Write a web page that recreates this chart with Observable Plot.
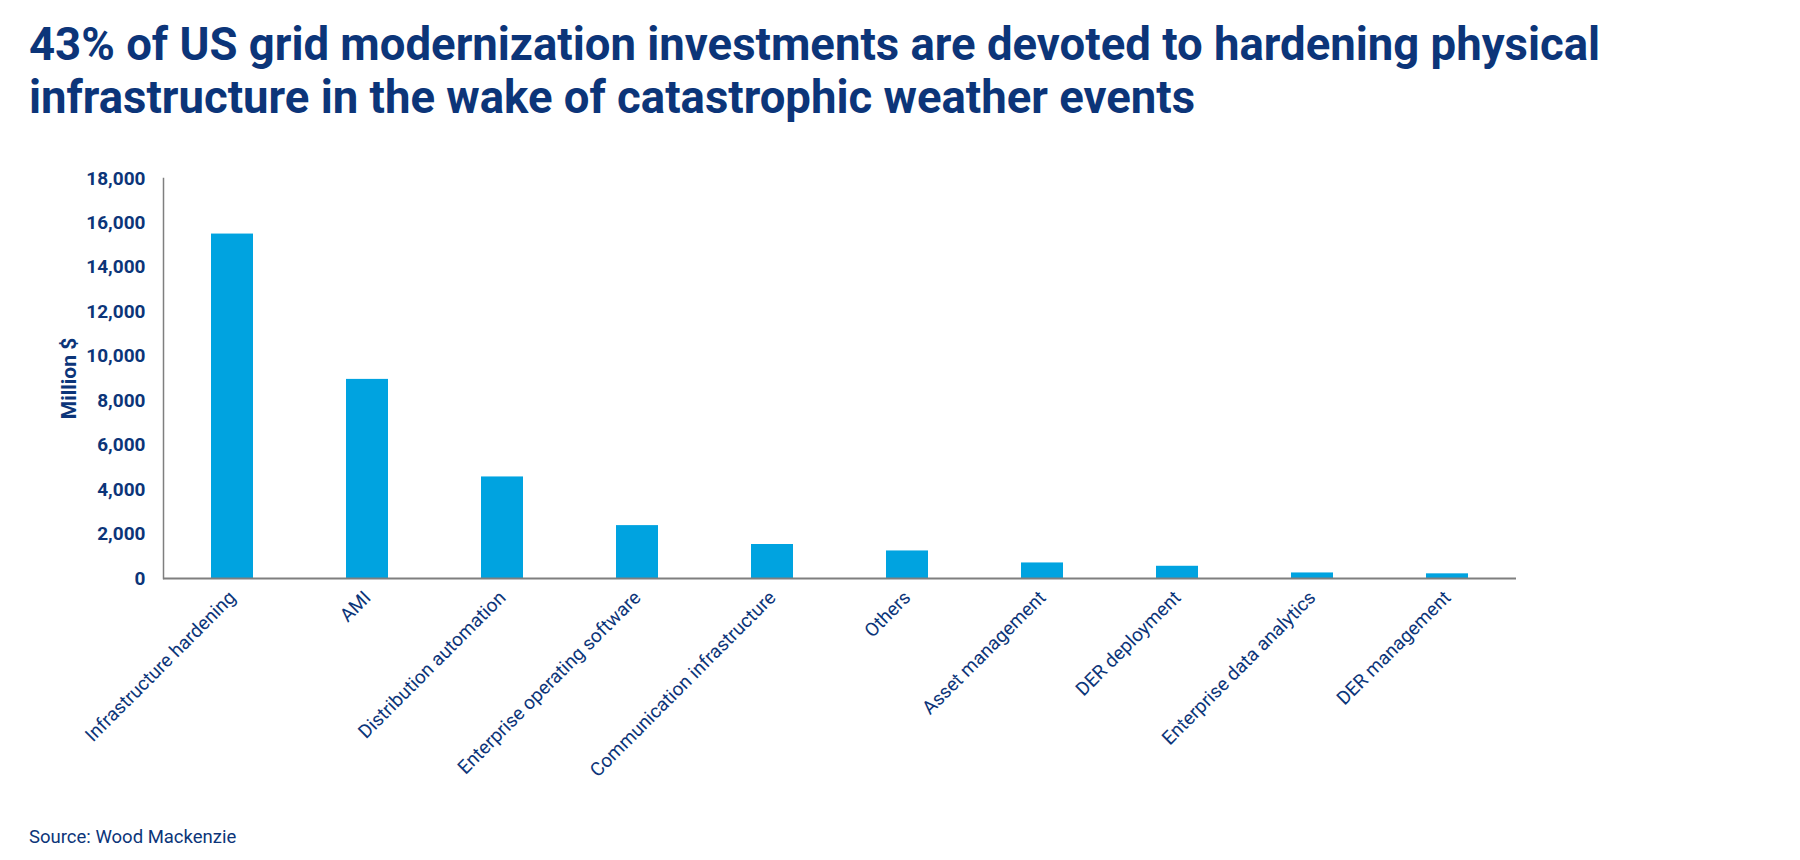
<!DOCTYPE html>
<html>
<head>
<meta charset="utf-8">
<script src="https://cdn.jsdelivr.net/npm/d3@7"></script>
<script src="https://cdn.jsdelivr.net/npm/@observablehq/plot@0.6"></script>
<style>
  html, body { margin: 0; padding: 0; background: #fff; }
  body { width: 1800px; height: 860px; position: relative; overflow: hidden; font-family: Roboto, sans-serif; }
  #title { position: absolute; left: 29px; top: 18px; font-size: 45.5px; line-height: 53px; font-weight: 700; color: #0c3579; margin: 0; white-space: nowrap; }
  #source { position: absolute; left: 29px; top: 825px; font-size: 18.5px; line-height: 24px; color: #0c3579; }
  #chart { position: absolute; left: 0; top: 0; }
</style>
</head>
<body>
<div id="chart"></div>
<h1 id="title">43% of US grid modernization investments are devoted to hardening physical<br>infrastructure in the wake of catastrophic weather events</h1>
<div id="source">Source: Wood Mackenzie</div>
<script>
const categories = [
  "Infrastructure hardening",
  "AMI",
  "Distribution automation",
  "Enterprise operating software",
  "Communication infrastructure",
  "Others",
  "Asset management",
  "DER deployment",
  "Enterprise data analytics",
  "DER management"
];
const values = [15500, 8960, 4570, 2380, 1530, 1240, 700, 550, 250, 210];
const yTicks = [0, 2000, 4000, 6000, 8000, 10000, 12000, 14000, 16000, 18000];

const data = categories.map((c, i) => ({category: c, value: values[i]}));
const navy = "#0c3579";

const chart = Plot.plot({
  width: 1800,
  height: 860,
  marginTop: 178,
  marginBottom: 282,
  marginLeft: 163,
  marginRight: 284,
  style: {fontFamily: "Roboto, sans-serif", background: "transparent", color: navy},
  x: {domain: categories, paddingInner: 0.69, paddingOuter: 0.345, align: 0.5},
  y: {domain: [0, 18000]},
  marks: [
    Plot.barY(data, {x: "category", y: "value", fill: "#00a3e0"}),
    Plot.axisY({
      ticks: yTicks, tickSize: 0, tickPadding: 18,
      tickFormat: d3.format(","),
      fontSize: 19, fontWeight: 700, fill: navy,
      label: null
    }),
    Plot.text(["Million $"], {
      frameAnchor: "left", dx: -94, rotate: -90,
      fontSize: 21, fontWeight: 700, fill: navy, textAnchor: "middle"
    }),
    Plot.axisX({
      tickSize: 0, tickPadding: 16, tickRotate: -45,
      fontSize: 19, fill: navy, label: null
    }),
    Plot.frame({anchor: "left", stroke: "#7f7f7f", strokeWidth: 1.5}),
    Plot.ruleY([0], {stroke: "#7f7f7f", strokeWidth: 2})
  ]
});
document.getElementById("chart").appendChild(chart);
</script>
</body>
</html>
